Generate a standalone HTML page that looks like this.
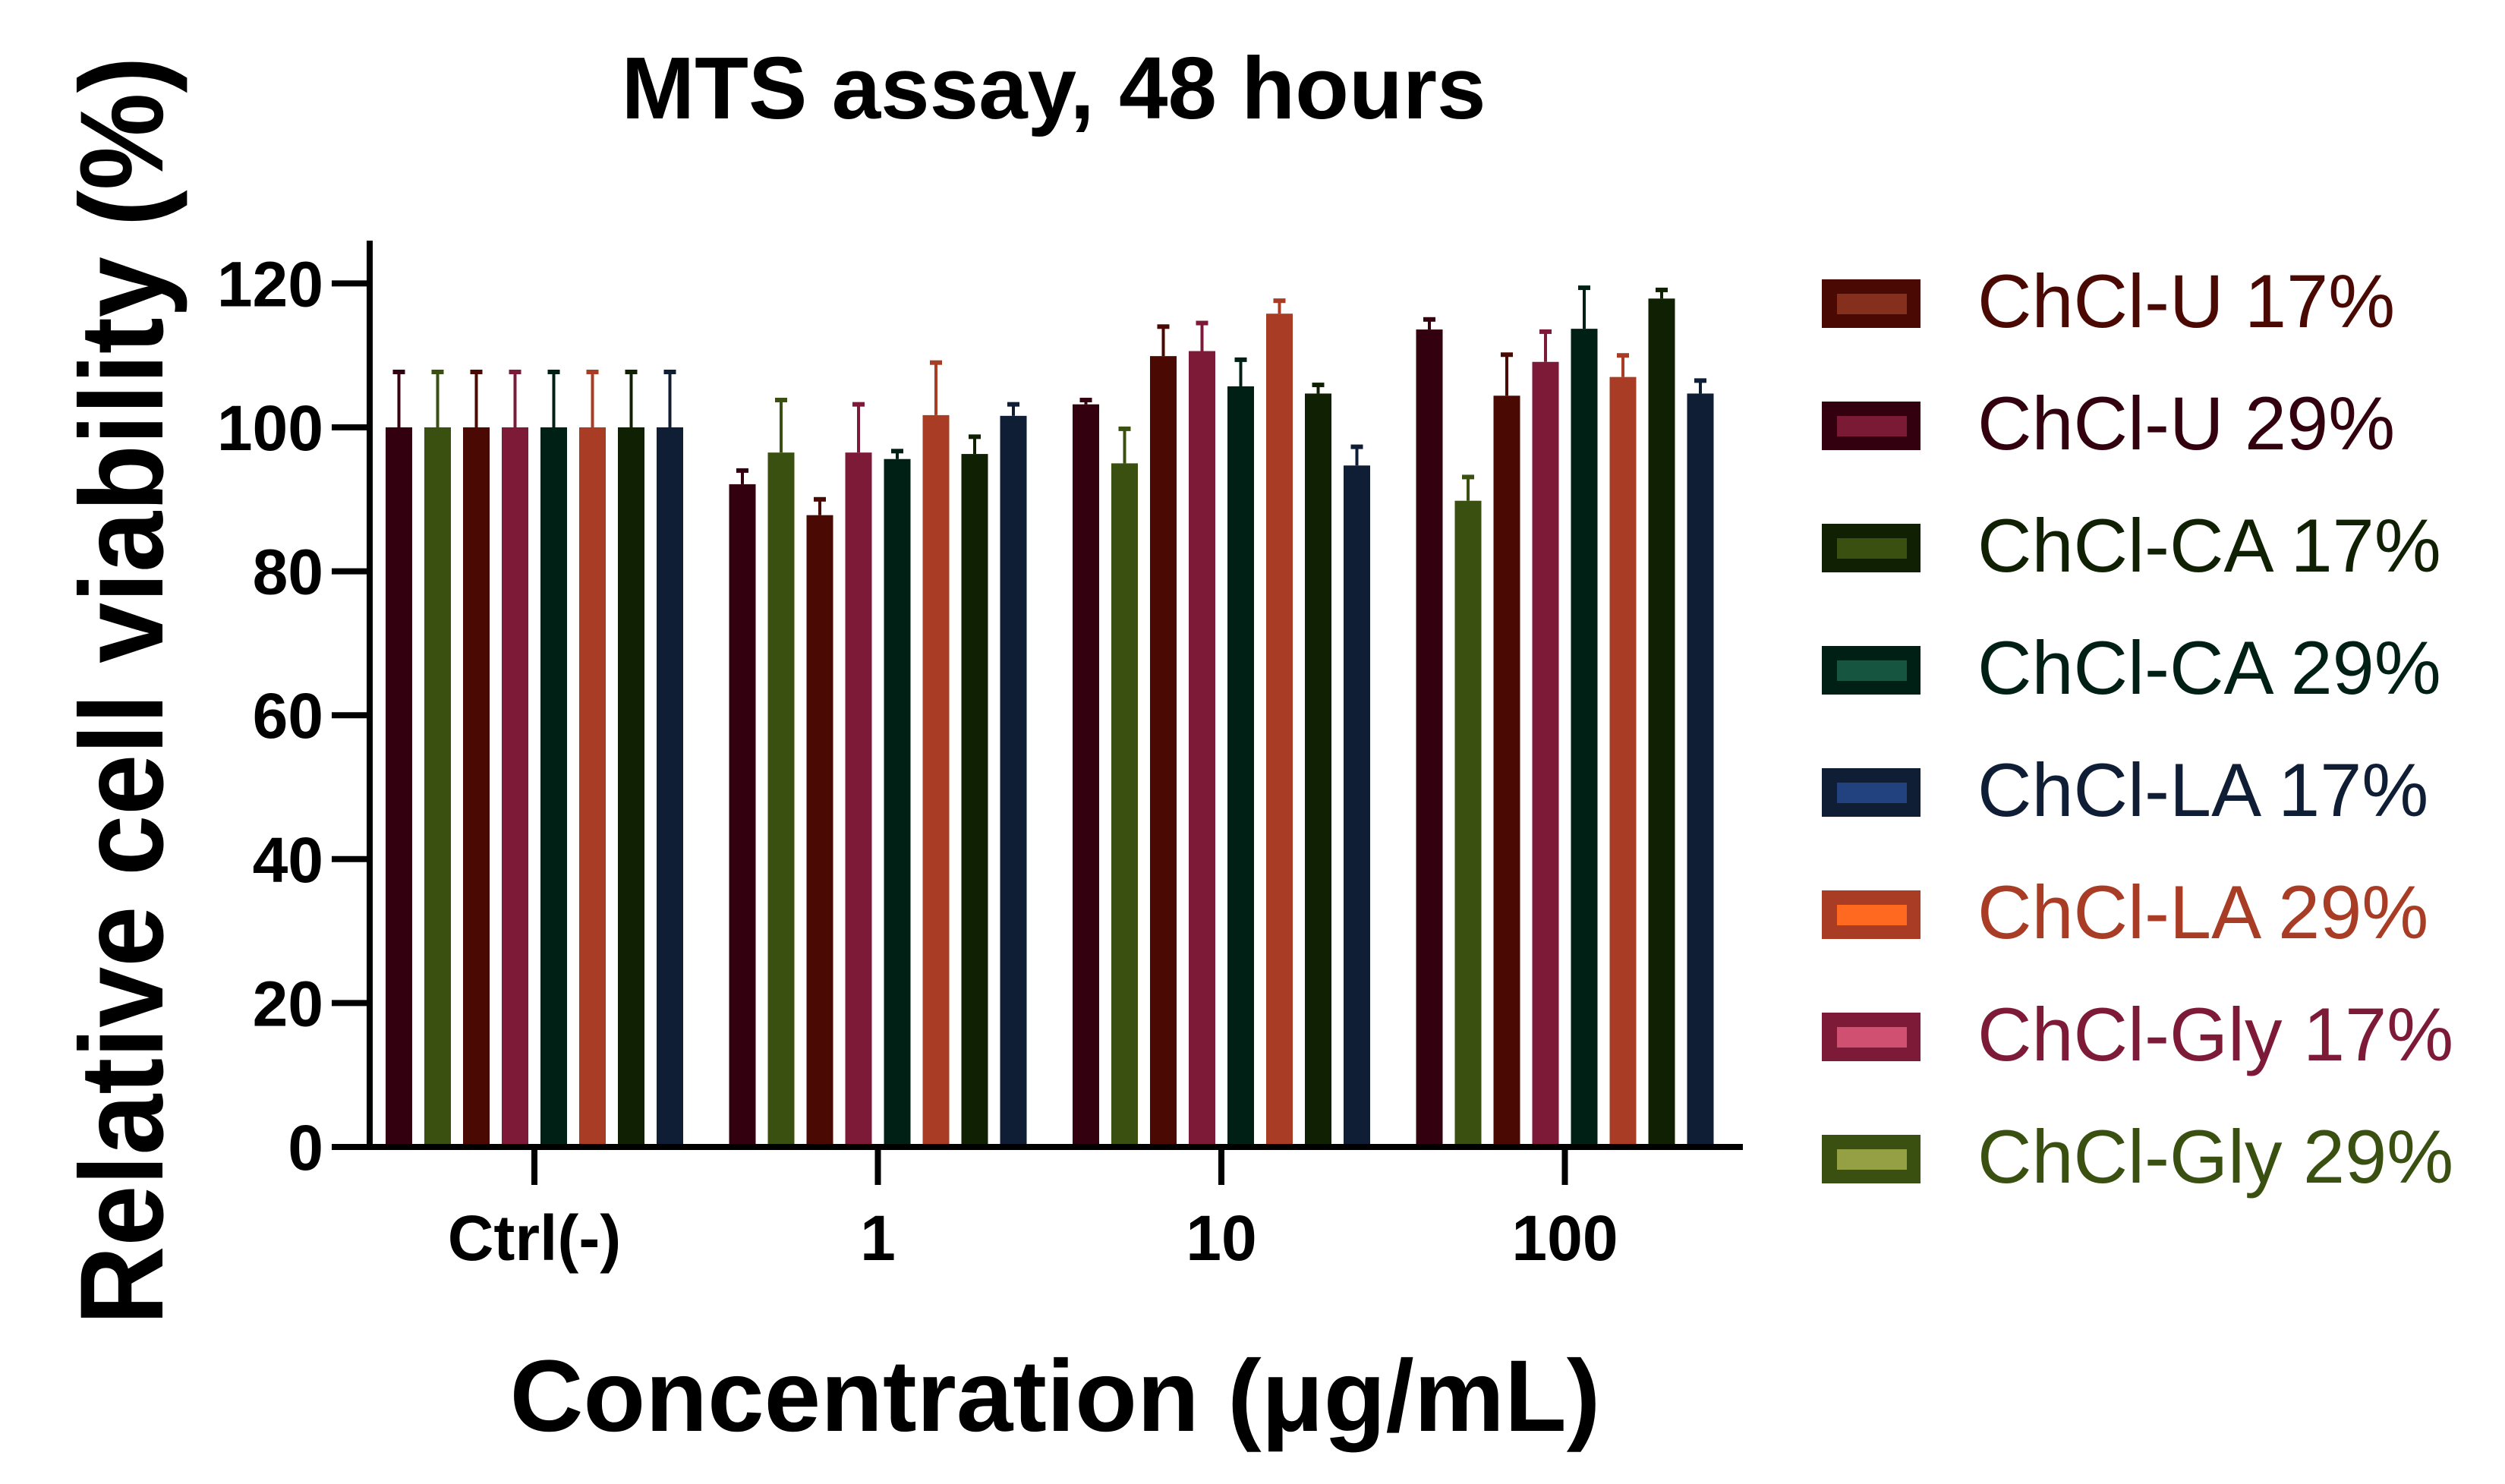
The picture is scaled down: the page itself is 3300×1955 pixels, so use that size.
<!DOCTYPE html>
<html><head><meta charset="utf-8"><style>
html,body{margin:0;padding:0;background:#fff;}
svg{display:block;font-family:"Liberation Sans",Arial,sans-serif;}
</style></head><body>
<svg id="chart" width="3300" height="1955" viewBox="0 0 3300 1955" xmlns="http://www.w3.org/2000/svg">
<text x="1388" y="156" font-size="116" font-weight="bold" text-anchor="middle" fill="#000">MTS assay, 48 hours</text>
<text transform="translate(214,910) rotate(-90)" font-size="156" font-weight="bold" text-anchor="middle" textLength="1671" lengthAdjust="spacingAndGlyphs" fill="#000">Relative cell viability (%)</text>
<text x="1390" y="1885" font-size="134" font-weight="bold" text-anchor="middle" fill="#000">Concentration (μg/mL)</text>
<g id="plot"></g>
<g id="legend"></g>
</svg>
<script>
const categories = ["Ctrl(-)", "1", "10", "100"];
const seriesNames = ["ChCl-U 29%","ChCl-Gly 29%","ChCl-U 17%","ChCl-Gly 17%","ChCl-CA 29%","ChCl-LA 29%","ChCl-CA 17%","ChCl-LA 17%"];
const seriesColors = ["#33000f","#3a5011","#4a0a03","#7d1a38","#002015","#a83c25","#0f2003","#0f1d35"];
const valU29   = [100, 92.1, 103.2, 113.6];
const valGly29 = [100, 96.5, 95.0, 89.8];
const valU17   = [100, 87.8, 109.9, 104.4];
const valGly17 = [100, 96.5, 110.6, 109.1];
const valCA29  = [100, 95.6, 105.7, 113.7];
const valLA29  = [100, 101.7, 115.8, 107.0];
const valCA17  = [100, 96.3, 104.7, 117.9];
const valLA17  = [100, 101.6, 94.7, 104.7];
const errU29   = [7.7, 1.9, 0.6, 1.4];
const errGly29 = [7.7, 7.3, 4.8, 3.3];
const errU17   = [7.7, 2.2, 4.1, 5.7];
const errGly17 = [7.7, 6.7, 3.9, 4.2];
const errCA29  = [7.7, 1.1, 3.7, 5.7];
const errLA29  = [7.7, 7.3, 1.8, 3.0];
const errCA17  = [7.7, 2.4, 1.2, 1.2];
const errLA17  = [7.7, 1.6, 2.6, 1.8];
const yTicks = [0, 20, 40, 60, 80, 100, 120];
const legendNames = ["ChCl-U 17%","ChCl-U 29%","ChCl-CA 17%","ChCl-CA 29%","ChCl-LA 17%","ChCl-LA 29%","ChCl-Gly 17%","ChCl-Gly 29%"];
const legendBorder = ["#4a0a03","#33000f","#0f2003","#002015","#0f1d35","#a83c25","#7d1a38","#3a5011"];
const legendFill = ["#85301c","#7a1a35","#3a5011","#165540","#22417f","#ff6a20","#cf5070","#95a045"];

const values = [valU29,valGly29,valU17,valGly17,valCA29,valLA29,valCA17,valLA17];
const errors = [errU29,errGly29,errU17,errGly17,errCA29,errLA29,errCA17,errLA17];
const NS = "http://www.w3.org/2000/svg";
const plot = document.getElementById("plot");
const legend = document.getElementById("legend");
const y0 = 1511, pxPerUnit = 9.48;
function yScale(v){ return y0 - v*pxPerUnit; }
const catX0 = 704, catStep = 452.5;
function xCat(i){ return catX0 + i*catStep; }
const barStep = 51, barW = 35;
function xBar(ci, si){ return xCat(ci) + (si - 3.5)*barStep - barW/2; }
function mk(tag, attrs, parent){ const e=document.createElementNS(NS,tag); for(const k in attrs) e.setAttribute(k,attrs[k]); parent.appendChild(e); return e; }

values.forEach((arr, si) => {
  arr.forEach((v, ci) => {
    const x = xBar(ci, si), top = yScale(v), c = seriesColors[si];
    const r = mk("rect", {x:x, y:top, width:barW, height:y0-top, fill:c}, plot);
    
    
    const eTop = yScale(v + errors[si][ci]), cx = x + barW/2;
    const el = mk("line", {x1:cx, x2:cx, y1:top, y2:eTop, stroke:c, "stroke-width":4}, plot);
    
    
    const cap = mk("line", {x1:cx-8, x2:cx+8, y1:eTop, y2:eTop, stroke:c, "stroke-width":6}, plot);
    
    
  });
});

const ya = mk("line", {x1:487, x2:487, y1:317, y2:y0+4, stroke:"#000", "stroke-width":8}, plot);


const xa = mk("line", {x1:437, x2:2296, y1:y0, y2:y0, stroke:"#000", "stroke-width":8}, plot);


yTicks.forEach(t => {
  const y = yScale(t);
  const tk = mk("line", {x1:437, x2:487, y1:y, y2:y, stroke:"#000", "stroke-width":8}, plot);
  
  
  const lb = mk("text", {x:426, y:y+30, "font-size":84, "font-weight":"bold", "text-anchor":"end", fill:"#000"}, plot);
  lb.textContent = t;
  
  
});
categories.forEach((c, i) => {
  const x = xCat(i);
  const tk = mk("line", {x1:x, x2:x, y1:y0, y2:y0+50, stroke:"#000", "stroke-width":8}, plot);
  
  
  const lb = mk("text", {x:x, y:1660, "font-size":84, "font-weight":"bold", "text-anchor":"middle", fill:"#000"}, plot);
  lb.textContent = c;
  
  
});

legendNames.forEach((n, i) => {
  const y = 368 + i*161;
  const g = mk("g", {}, legend);
  
  
  mk("rect", {x:2400, y:y, width:130, height:64, fill:legendBorder[i]}, g);
  mk("rect", {x:2420, y:y+19, width:92, height:27, fill:legendFill[i]}, g);
  const t = mk("text", {x:2605, y:y+63, "font-size":99, fill:legendBorder[i]}, g);
  t.textContent = n;
});
</script>
</body></html>
